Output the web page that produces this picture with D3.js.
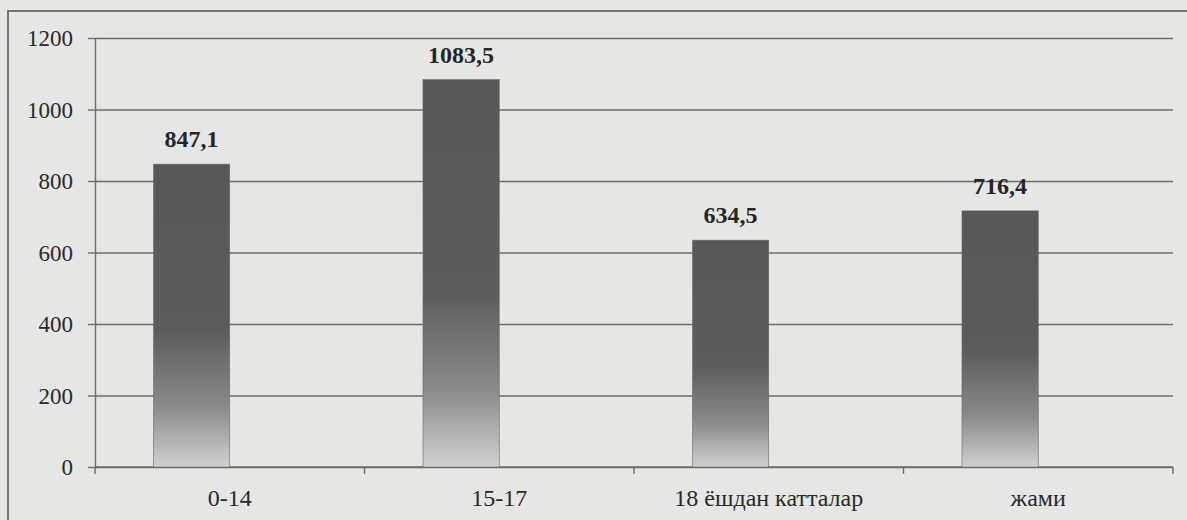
<!DOCTYPE html>
<html>
<head>
<meta charset="utf-8">
<script src="https://cdn.jsdelivr.net/npm/d3@7"></script>
<style>
  html, body { margin: 0; padding: 0; background: #e6e6e4; }
  svg { display: block; }
</style>
</head>
<body>
<div id="chart"></div>
<script>
// age groups and their rates (per 100 000)
const categories = ['0-14', '15-17', '18 ёшдан катталар', 'жами'];
const values = [847.1, 1083.5, 634.5, 716.4];
const yTicks = [0, 200, 400, 600, 800, 1000, 1200];

const W = 1187, H = 520;
const margin = {t: 38, r: 14, b: 53, l: 95};
const serif = '"Liberation Serif", "DejaVu Serif", "Times New Roman", serif';

const svg = d3.select('#chart').append('svg')
  .attr('width', W)
  .attr('height', H);

// paper background
svg.append('rect').attr('width', W).attr('height', H).attr('fill', '#e6e6e4');

// outer frame of the figure (runs off the page on right and bottom)
svg.append('rect')
  .attr('x', 8).attr('y', 11)
  .attr('width', W + 20).attr('height', H + 20)
  .attr('fill', 'none')
  .attr('stroke', '#5a5a5a')
  .attr('stroke-width', 1.6);

const scaleX = d3.scaleBand()
  .domain(categories)
  .range([margin.l, W - margin.r])
  .paddingInner(0).paddingOuter(0);

const scaleY = d3.scaleLinear()
  .domain([0, 1200])
  .range([H - margin.b, margin.t]);

const fmt = d3.formatLocale({decimal: ',', thousands: ' ', grouping: [3], currency: ['', '']}).format('.1f');

// gradient for bars: dark top, fading to light at the bottom
const defs = svg.append('defs');
const grad = defs.append('linearGradient')
  .attr('id', 'barGrad')
  .attr('x1', 0).attr('y1', 0).attr('x2', 0).attr('y2', 1);
grad.append('stop').attr('offset', '0%').attr('stop-color', '#585858');
grad.append('stop').attr('offset', '55%').attr('stop-color', '#5c5c5c');
grad.append('stop').attr('offset', '80%').attr('stop-color', '#8a8a8a');
grad.append('stop').attr('offset', '100%').attr('stop-color', '#d0d0d0');

// gridlines
svg.append('g')
  .attr('transform', `translate(${margin.l},0)`)
  .call(d3.axisRight(scaleY).tickValues(yTicks).tickSize(W - margin.r - margin.l).tickFormat(''))
  .call(g => g.select('.domain').remove())
  .call(g => g.selectAll('line').attr('stroke', '#6e6e6e').attr('stroke-width', 1.4));

// left axis
svg.append('g')
  .attr('transform', `translate(${margin.l},0)`)
  .call(d3.axisLeft(scaleY).tickValues(yTicks).tickSize(7).tickSizeOuter(0).tickPadding(15).tickFormat(d => d))
  .call(g => g.select('.domain').attr('stroke', '#6e6e6e').attr('stroke-width', 1.4))
  .call(g => g.selectAll('.tick line').attr('stroke', '#6e6e6e').attr('stroke-width', 1.4))
  .call(g => g.selectAll('.tick text')
    .style('font-family', serif)
    .style('font-size', '23px')
    .attr('fill', '#2a2a2a')
    .attr('dy', '0.34em'));

// bottom axis line and category boundary ticks
const y0 = scaleY(0);
svg.append('line')
  .attr('x1', margin.l).attr('x2', W - margin.r)
  .attr('y1', y0).attr('y2', y0)
  .attr('stroke', '#6e6e6e').attr('stroke-width', 1.4);

const bounds = categories.map(c => scaleX(c)).concat([scaleX.range()[1]]);
svg.selectAll('.xtick')
  .data(bounds)
  .enter()
  .append('line')
  .attr('class', 'xtick')
  .attr('x1', d => d).attr('x2', d => d)
  .attr('y1', y0).attr('y2', y0 + 7)
  .attr('stroke', '#6e6e6e').attr('stroke-width', 1.4);

// bars: right edge sits on the category centre
const barW = scaleX.bandwidth() * 0.283;

const node = svg.selectAll('.node')
  .data(categories.map((c, i) => ({name: c, value: values[i]})))
  .enter()
  .append('g')
  .attr('class', 'node');

node.append('rect')
  .attr('x', d => scaleX(d.name) + scaleX.bandwidth() / 2 - barW)
  .attr('y', d => scaleY(d.value))
  .attr('width', barW)
  .attr('height', d => y0 - scaleY(d.value))
  .attr('fill', 'url(#barGrad)')
  .attr('stroke', '#6a6a6a')
  .attr('stroke-width', 0.6);

node.append('text')
  .text(d => fmt(d.value))
  .attr('x', d => scaleX(d.name) + scaleX.bandwidth() / 2 - barW / 2)
  .attr('y', d => scaleY(d.value) - 17)
  .attr('text-anchor', 'middle')
  .style('font-family', serif)
  .style('font-weight', 'bold')
  .style('font-size', '24px')
  .attr('fill', '#262626');

node.append('text')
  .text(d => d.name)
  .attr('x', d => scaleX(d.name) + scaleX.bandwidth() / 2)
  .attr('y', y0 + 39)
  .attr('text-anchor', 'middle')
  .style('font-family', serif)
  .style('font-size', '24px')
  .attr('fill', '#2a2a2a');
</script>
</body>
</html>
